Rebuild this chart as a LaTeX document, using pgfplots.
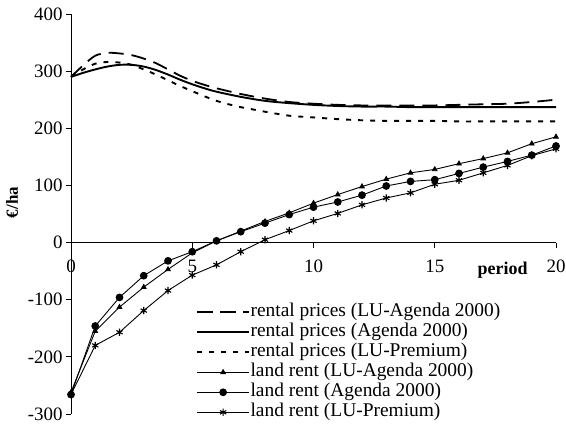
\documentclass[border=0pt]{standalone}
\usepackage{fontspec}
\setmainfont{Liberation Serif}
\usepackage{pgfplots}
\pgfplotsset{compat=1.18}
\begin{document}
\begin{tikzpicture}
\begin{axis}[
  scale only axis, width=485bp, height=400bp,
  xmin=0, xmax=20, ymin=-300, ymax=400,
  axis x line=middle, axis y line=left,
  axis line style={-, line width=0.8bp},
  xtick={0,5,10,15,20}, xticklabels={0,5,10,15,20},
  ytick={-300,-200,-100,0,100,200,300,400},
  yticklabels={-300,-200,-100,0,100,200,300,400},
  tick align=outside, major tick length=5bp,
  tick style={line width=0.8bp, black},
  ticklabel style={font=\fontsize{19}{21}\selectfont},
  xticklabel style={yshift=-9bp},
  hide obscured x ticks=false,
  clip=false,
  legend cell align=left,
  legend style={draw=none, fill=none, at={(axis cs:5.03,-102)}, anchor=north west,
    font=\fontsize{19.5}{21}\selectfont, row sep=1.5bp,
    nodes={inner sep=0.5bp, text height=13bp, text depth=4.5bp}},
  legend image code/.code={\draw[mark repeat=2, mark phase=2] plot coordinates {(0bp,0bp) (26bp,0bp) (52bp,0bp)};},
]
% rental prices (LU-Agenda 2000)
\addplot[black, line width=1.8bp, dash pattern=on 15bp off 8bp, smooth] coordinates {
(0,290) (0.5,310) (1,327) (1.5,332) (2,331) (2.5,328) (3,322) (3.5,314) (4,303) (4.5,292) (5,283) (5.5,276) (6,270) (7,260) (8,252) (9,246) (10,243) (11,241) (12,240) (13,240) (14,240) (15,240) (16,241) (17,242) (18,243) (19,246) (20,250)};
\addlegendentry{rental prices (LU-Agenda 2000)}
% rental prices (Agenda 2000)
\addplot[black, line width=1.9bp, smooth] coordinates {
(0,290) (0.5,297) (1,303) (1.5,308) (2,311) (2.5,311) (3,308) (3.5,302) (4,294) (4.5,285) (5,277) (5.5,270) (6,264) (7,255) (8,248) (9,244) (10,241) (11,239) (12,238) (13,238) (14,237) (15,237) (16,237) (17,237) (18,237) (19,237) (20,237)};
\addlegendentry{rental prices (Agenda 2000)}
% rental prices (LU-Premium)
\addplot[black, line width=1.9bp, dash pattern=on 5bp off 7bp, smooth] coordinates {
(0,290) (0.5,303) (1,313) (1.5,316) (2,315) (2.5,311) (3,303) (3.5,294) (4,284) (4.5,274) (5,265) (5.5,256) (6,248) (6.5,242) (7,237) (7.5,233) (8,229) (9,222) (10,219) (11,216) (12,214) (13,213) (14,213) (15,213) (16,212) (17,212) (18,212) (19,212) (20,212)};
\addlegendentry{rental prices (LU-Premium)}
% land rent (LU-Agenda 2000)
\addplot[black, line width=0.9bp, mark=triangle*, mark size=2.6bp] coordinates {
(0,-262) (1,-155) (2,-113) (3,-78) (4,-47) (5,-18) (6,3) (7,20) (8,37) (9,52) (10,69) (11,84) (12,98) (13,111) (14,122) (15,128) (16,138) (17,147) (18,157) (19,173) (20,185)};
\addlegendentry{land rent (LU-Agenda 2000)}
% land rent (Agenda 2000)
\addplot[black, line width=0.9bp, mark=*, mark size=3.4bp] coordinates {
(0,-266) (1,-146) (2,-96) (3,-58) (4,-32) (5,-16) (6,3) (7,19) (8,34) (9,49) (10,62) (11,71) (12,83) (13,99) (14,107) (15,110) (16,121) (17,132) (18,142) (19,153) (20,169)};
\addlegendentry{land rent (Agenda 2000)}
% land rent (LU-Premium)
\addplot[black, line width=0.9bp, mark=asterisk, mark size=3.6bp, mark options={line width=1.1bp}] coordinates {
(0,-266) (1,-180) (2,-157) (3,-119) (4,-84) (5,-57) (6,-39) (7,-16) (8,5) (9,21) (10,38) (11,51) (12,66) (13,78) (14,87) (15,102) (16,109) (17,122) (18,135) (19,152) (20,164)};
\addlegendentry{land rent (LU-Premium)}
\node[font=\fontsize{18}{20}\selectfont\bfseries] at (axis cs:17.8,-48) {period};
\node[font=\fontsize{17}{20}\selectfont\bfseries, rotate=90] at ([xshift=-59bp]axis cs:0,70) {€/ha};
\coordinate (ll) at (rel axis cs:0,0);
\coordinate (ur) at (rel axis cs:1,1);
\end{axis}
\pgfresetboundingbox
\path[use as bounding box] ([shift={(-71bp,-13bp)}]ll) rectangle ([shift={(10bp,14bp)}]ur);
\end{tikzpicture}
\end{document}
